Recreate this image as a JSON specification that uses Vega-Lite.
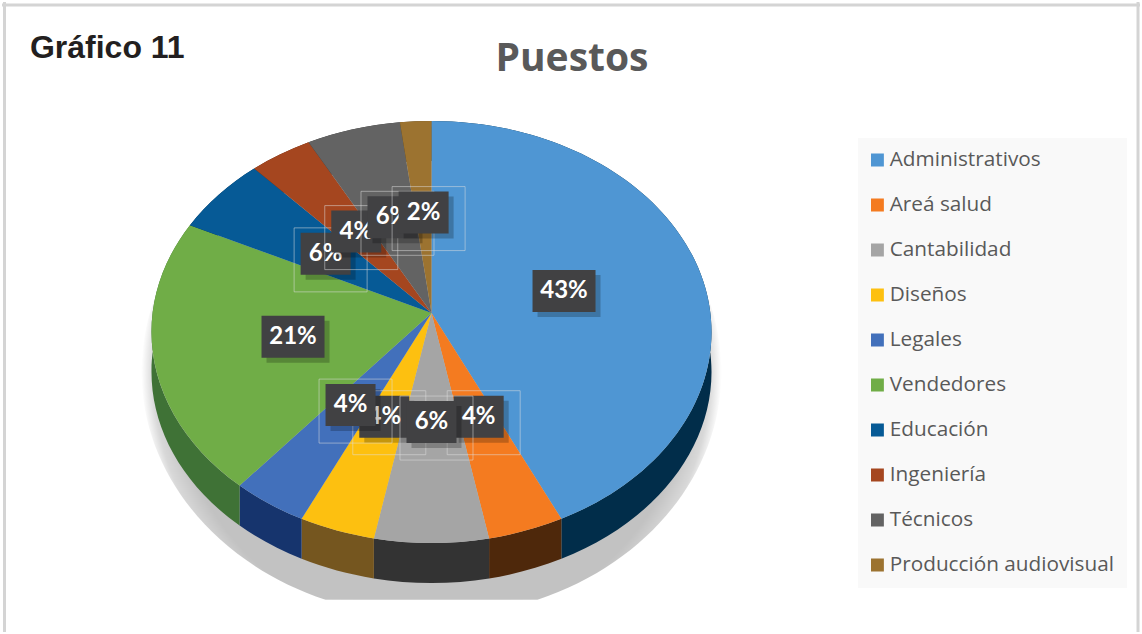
{
"$schema":"https://vega.github.io/schema/vega-lite/v6.json",
"width":1142,"height":634,"padding":0,
"autosize":{"type":"fit","contains":"padding"},
"background":"#ffffff",
"config":{"view":{"stroke":null}},
"data":{"values":[
{"Puesto":"Administrativos","porcentaje":43},
{"Puesto":"Areá salud","porcentaje":4},
{"Puesto":"Cantabilidad","porcentaje":6},
{"Puesto":"Diseños","porcentaje":4},
{"Puesto":"Legales","porcentaje":4},
{"Puesto":"Vendedores","porcentaje":21},
{"Puesto":"Educación","porcentaje":6},
{"Puesto":"Ingeniería","porcentaje":4},
{"Puesto":"Técnicos","porcentaje":6},
{"Puesto":"Producción audiovisual","porcentaje":2}
]},
"transform":[
{"window":[{"op":"sum","field":"porcentaje","as":"fin"}]},
{"calculate":"(datum.fin-datum.porcentaje)/100*2*PI","as":"a0"},
{"calculate":"datum.fin/100*2*PI","as":"a1"},
{"calculate":"(datum.a0+datum.a1)/2","as":"am"},
{"calculate":"datum.a0-0.1*sin(datum.a0)","as":"b0"},
{"calculate":"datum.a1-0.1*sin(datum.a1)","as":"b1"},
{"calculate":"round(280*sin(datum.b0)*100)/100","as":"x0"},
{"calculate":"round(-211*cos(datum.b0)*100)/100","as":"y0"},
{"calculate":"round(280*sin(datum.b1)*100)/100","as":"x1"},
{"calculate":"round(-211*cos(datum.b1)*100)/100","as":"y1"},
{"calculate":"'M0,-19L'+datum.x0+','+datum.y0+'A280,211 0 0 1 '+datum.x1+','+datum.y1+'Z'","as":"cara"},
{"calculate":"'M'+datum.x0+','+datum.y0+'A280,211 0 0 1 '+datum.x1+','+datum.y1+'L'+datum.x1+','+(datum.y1+40)+'A280,211 0 0 0 '+datum.x0+','+(datum.y0+40)+'Z'","as":"canto"},
{"calculate":"140*sin(datum.am-0.1*sin(datum.am))","as":"lx"},
{"calculate":"-19-(cos(datum.am)>0?0.48:0.52)*211*cos(datum.am)","as":"ly"},
{"calculate":"datum.porcentaje+'%'","as":"etiqueta"}
],
"encoding":{
"x":{"field":"lx","type":"quantitative","scale":{"domain":[-431,711],"nice":false,"zero":false},"axis":null},
"y":{"field":"ly","type":"quantitative","scale":{"domain":[-332,302],"reverse":true,"nice":false,"zero":false},"axis":null}
},
"layer":[
{"transform":[{"filter":"datum.Puesto==='Administrativos'"}],
"mark":{"type":"point","filled":true,"size":4,"opacity":1,"strokeWidth":0,
"fill":{"gradient":"radial","x1":0.5,"y1":0.518,"r1":0,"x2":0.5,"y2":0.518,"r2":0.5,"stops":[{"offset":0,"color":"#c2c2c2"},{"offset":0.89,"color":"#c2c2c2"},{"offset":0.96,"color":"#d8d8d8"},{"offset":1,"color":"#ffffff"}]}},
"encoding":{
"x":{"datum":0,"type":"quantitative","scale":{"domain":[-431,711],"nice":false,"zero":false},"axis":null},
"y":{"datum":40,"type":"quantitative","scale":{"domain":[-332,302],"reverse":true,"nice":false,"zero":false},"axis":null},
"shape":{"value":"M-290,0A290,245 0 0 1 290,0A290,245 0 0 1 106,228L-106,228A290,245 0 0 1 -290,0Z"}}},
{"mark":{"type":"point","filled":true,"size":4,"opacity":1,"strokeWidth":0},
"encoding":{
"x":{"datum":0,"type":"quantitative","scale":{"domain":[-431,711],"nice":false,"zero":false},"axis":null},
"y":{"datum":0,"type":"quantitative","scale":{"domain":[-332,302],"reverse":true,"nice":false,"zero":false},"axis":null},
"shape":{"field":"canto","type":"nominal","scale":null},
"fill":{"field":"Puesto","type":"nominal","legend":null,"scale":{"domain":["Administrativos","Areá salud","Cantabilidad","Diseños","Legales","Vendedores","Educación","Ingeniería","Técnicos","Producción audiovisual"],"range":["#012d4a","#4e280b","#333333","#75561f","#16346d","#3f7236","#03304f","#5a2610","#333333","#54401c"]}}}},
{"mark":{"type":"point","filled":true,"size":4,"opacity":1,"strokeWidth":0},
"encoding":{
"x":{"datum":0,"type":"quantitative","scale":{"domain":[-431,711],"nice":false,"zero":false},"axis":null},
"y":{"datum":0,"type":"quantitative","scale":{"domain":[-332,302],"reverse":true,"nice":false,"zero":false},"axis":null},
"shape":{"field":"cara","type":"nominal","scale":null},
"fill":{"field":"Puesto","type":"nominal","scale":{"domain":["Administrativos","Areá salud","Cantabilidad","Diseños","Legales","Vendedores","Educación","Ingeniería","Técnicos","Producción audiovisual"],"range":["#4f96d3","#f47b20","#a5a5a5","#fdc010","#4270bb","#70ad47","#065a96","#a5461f","#636363","#9c7330"]},
"legend":{"title":null,"orient":"none","legendX":856,"legendY":136,"padding":13,"fillColor":"#f9f9f9","symbolType":"square","symbolSize":169,"symbolStrokeWidth":0,"symbolOffset":-4,"labelFont":"Open Sans","labelFontSize":20.75,"labelColor":"#595959","labelLimit":300,"labelOffset":2,"rowPadding":24,"clipHeight":18,"values":["Administrativos","Areá salud","Cantabilidad","Diseños","Legales","Vendedores","Educación","Ingeniería","Técnicos","Producción audiovisual"]}}}},
{"transform":[{"filter":"datum.Puesto==='Educación'"}],"layer":[
{"mark":{"type":"rect","fill":null,"fillOpacity":0,"stroke":"#e2e2e2","strokeWidth":1,"strokeOpacity":0.5,"xOffset":5,"yOffset":6,"width":73,"height":64}},
{"mark":{"type":"rect","fill":"#000000","opacity":0.22,"xOffset":5,"yOffset":5,"width":50,"height":42}},
{"mark":{"type":"rect","fill":"#414143","width":50,"height":42}},
{"mark":{"type":"text","fill":"#ffffff","font":"Lato","fontWeight":"bold","fontSize":24,"align":"center","baseline":"middle"},"encoding":{"text":{"field":"etiqueta"}}}]},
{"transform":[{"filter":"datum.Puesto==='Ingeniería'"}],"layer":[
{"mark":{"type":"rect","fill":null,"fillOpacity":0,"stroke":"#e2e2e2","strokeWidth":1,"strokeOpacity":0.5,"xOffset":5,"yOffset":6,"width":73,"height":64}},
{"mark":{"type":"rect","fill":"#000000","opacity":0.22,"xOffset":5,"yOffset":5,"width":50,"height":42}},
{"mark":{"type":"rect","fill":"#414143","width":50,"height":42}},
{"mark":{"type":"text","fill":"#ffffff","font":"Lato","fontWeight":"bold","fontSize":24,"align":"center","baseline":"middle"},"encoding":{"text":{"field":"etiqueta"}}}]},
{"transform":[{"filter":"datum.Puesto==='Técnicos'"}],"layer":[
{"mark":{"type":"rect","fill":null,"fillOpacity":0,"stroke":"#e2e2e2","strokeWidth":1,"strokeOpacity":0.5,"xOffset":5,"yOffset":6,"width":73,"height":64}},
{"mark":{"type":"rect","fill":"#000000","opacity":0.22,"xOffset":5,"yOffset":5,"width":50,"height":42}},
{"mark":{"type":"rect","fill":"#414143","width":50,"height":42}},
{"mark":{"type":"text","fill":"#ffffff","font":"Lato","fontWeight":"bold","fontSize":24,"align":"center","baseline":"middle"},"encoding":{"text":{"field":"etiqueta"}}}]},
{"transform":[{"filter":"datum.Puesto==='Producción audiovisual'"}],"layer":[
{"mark":{"type":"rect","fill":null,"fillOpacity":0,"stroke":"#e2e2e2","strokeWidth":1,"strokeOpacity":0.5,"xOffset":5,"yOffset":6,"width":73,"height":64}},
{"mark":{"type":"rect","fill":"#000000","opacity":0.22,"xOffset":5,"yOffset":5,"width":50,"height":42}},
{"mark":{"type":"rect","fill":"#414143","width":50,"height":42}},
{"mark":{"type":"text","fill":"#ffffff","font":"Lato","fontWeight":"bold","fontSize":24,"align":"center","baseline":"middle"},"encoding":{"text":{"field":"etiqueta"}}}]},
{"transform":[{"filter":"datum.Puesto==='Areá salud'"}],"layer":[
{"mark":{"type":"rect","fill":null,"fillOpacity":0,"stroke":"#e2e2e2","strokeWidth":1,"strokeOpacity":0.5,"xOffset":5,"yOffset":6,"width":73,"height":64}},
{"mark":{"type":"rect","fill":"#000000","opacity":0.22,"xOffset":5,"yOffset":5,"width":50,"height":42}},
{"mark":{"type":"rect","fill":"#414143","width":50,"height":42}},
{"mark":{"type":"text","fill":"#ffffff","font":"Lato","fontWeight":"bold","fontSize":24,"align":"center","baseline":"middle"},"encoding":{"text":{"field":"etiqueta"}}}]},
{"transform":[{"filter":"datum.Puesto==='Diseños'"}],"layer":[
{"mark":{"type":"rect","fill":null,"fillOpacity":0,"stroke":"#e2e2e2","strokeWidth":1,"strokeOpacity":0.5,"xOffset":5,"yOffset":6,"width":73,"height":64}},
{"mark":{"type":"rect","fill":"#000000","opacity":0.22,"xOffset":5,"yOffset":5,"width":50,"height":42}},
{"mark":{"type":"rect","fill":"#414143","width":50,"height":42}},
{"mark":{"type":"text","fill":"#ffffff","font":"Lato","fontWeight":"bold","fontSize":24,"align":"center","baseline":"middle"},"encoding":{"text":{"field":"etiqueta"}}}]},
{"transform":[{"filter":"datum.Puesto==='Cantabilidad'"}],"layer":[
{"mark":{"type":"rect","fill":null,"fillOpacity":0,"stroke":"#e2e2e2","strokeWidth":1,"strokeOpacity":0.5,"xOffset":5,"yOffset":6,"width":73,"height":64}},
{"mark":{"type":"rect","fill":"#000000","opacity":0.22,"xOffset":5,"yOffset":5,"width":50,"height":42}},
{"mark":{"type":"rect","fill":"#414143","width":50,"height":42}},
{"mark":{"type":"text","fill":"#ffffff","font":"Lato","fontWeight":"bold","fontSize":24,"align":"center","baseline":"middle"},"encoding":{"text":{"field":"etiqueta"}}}]},
{"transform":[{"filter":"datum.Puesto==='Legales'"}],"layer":[
{"mark":{"type":"rect","fill":null,"fillOpacity":0,"stroke":"#e2e2e2","strokeWidth":1,"strokeOpacity":0.5,"xOffset":5,"yOffset":6,"width":73,"height":64}},
{"mark":{"type":"rect","fill":"#000000","opacity":0.22,"xOffset":5,"yOffset":5,"width":50,"height":42}},
{"mark":{"type":"rect","fill":"#414143","width":50,"height":42}},
{"mark":{"type":"text","fill":"#ffffff","font":"Lato","fontWeight":"bold","fontSize":24,"align":"center","baseline":"middle"},"encoding":{"text":{"field":"etiqueta"}}}]},
{"transform":[{"filter":"datum.porcentaje>=10"}],"layer":[
{"mark":{"type":"rect","fill":"#000000","opacity":0.22,"xOffset":5,"yOffset":5,"width":63,"height":42}},
{"mark":{"type":"rect","fill":"#414143","width":63,"height":42}},
{"mark":{"type":"text","fill":"#ffffff","font":"Lato","fontWeight":"bold","fontSize":24,"align":"center","baseline":"middle"},"encoding":{"text":{"field":"etiqueta"}}}]},
{"transform":[{"filter":"datum.Puesto==='Administrativos'"}],
"mark":{"type":"text","font":"Open Sans","fontWeight":"bold","fontSize":39,"fill":"#595959","align":"center","baseline":"alphabetic"},
"encoding":{
"x":{"datum":141,"type":"quantitative","scale":{"domain":[-431,711],"nice":false,"zero":false},"axis":null},
"y":{"datum":-263,"type":"quantitative","scale":{"domain":[-332,302],"reverse":true,"nice":false,"zero":false},"axis":null},
"text":{"value":"Puestos"}}},
{"transform":[{"filter":"datum.Puesto==='Administrativos'"}],
"mark":{"type":"text","font":"Liberation Sans","fontWeight":"bold","fontSize":32,"fill":"#231f20","align":"left","baseline":"alphabetic"},
"encoding":{
"x":{"datum":-403,"type":"quantitative","scale":{"domain":[-431,711],"nice":false,"zero":false},"axis":null},
"y":{"datum":-276,"type":"quantitative","scale":{"domain":[-332,302],"reverse":true,"nice":false,"zero":false},"axis":null},
"text":{"value":"Gráfico 11"}}},
{"data":{"values":[{"b":-428.5},{"b":709}]},
"mark":{"type":"rule","stroke":"#d4d4d4","strokeWidth":3},
"encoding":{"x":{"field":"b","type":"quantitative","scale":{"domain":[-431,711],"nice":false,"zero":false},"axis":null},"y":null}},
{"data":{"values":[{"b":-329}]},
"mark":{"type":"rule","stroke":"#d4d4d4","strokeWidth":3},
"encoding":{"y":{"field":"b","type":"quantitative","scale":{"domain":[-332,302],"reverse":true,"nice":false,"zero":false},"axis":null},"x":null}}
],
"resolve":{"scale":{"fill":"independent"}}
}
